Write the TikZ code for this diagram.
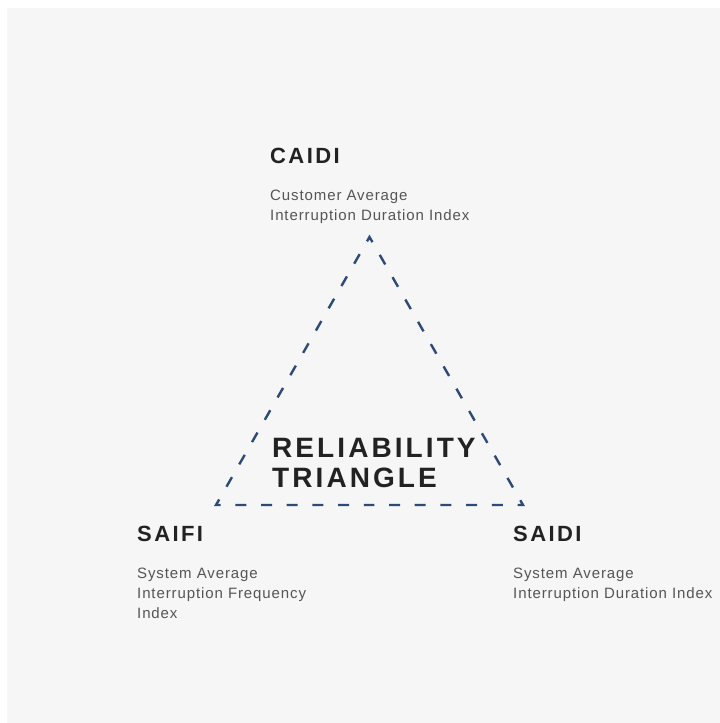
\documentclass[tikz,border=0pt]{standalone}
\usepackage{fontspec}
\setmainfont{Liberation Sans}
\newfontfamily\headfont[LetterSpace=11]{Liberation Sans}
\newfontfamily\subfont[LetterSpace=6]{Liberation Sans}
\usepackage{tikz}
\usetikzlibrary{positioning}
\definecolor{panelcolor}{RGB}{246,246,246}
\definecolor{edgecolor}{RGB}{44,74,122}
\definecolor{headcolor}{RGB}{34,34,34}
\definecolor{subcolor}{RGB}{85,85,85}

\tikzset{
  metric/.style={anchor=base west, inner sep=0pt, text=headcolor,
    font=\headfont\bfseries\fontsize{22}{22}\selectfont},
  metricsub/.style={anchor=base west, inner sep=0pt, text=subcolor, align=left,
    font=\subfont\fontsize{15}{20}\selectfont},
  tribig/.style={anchor=base west, inner sep=0pt, text=headcolor, align=left,
    font=\headfont\bfseries\fontsize{28}{30}\selectfont},
  triedge/.style={draw=edgecolor, line width=2.4pt, line join=miter,
    dash pattern=on 11pt off 14.7pt, dash phase=6.2pt}
}

\begin{document}
\begin{tikzpicture}[x=1pt, y=1pt]
  % canvas: 720 x 723, light panel
  \useasboundingbox (0,0) rectangle (720,723);
  \fill[white] (0,0) rectangle (720,723);
  \fill[panelcolor] (7,0) rectangle (720,715);

  % triangle corners (path starts mid-bottom so every corner gets a dash)
  \coordinate (apex) at (369.5,486);
  \coordinate (lcorner) at (216,218);
  \coordinate (rcorner) at (523,218);
  \coordinate (bmid) at (369.5,218);
  \draw[triedge] (bmid) -- (rcorner) -- (apex) -- (lcorner) -- cycle;

  % centre label
  \node[tribig] (title) at (272,235) {RELIABILITY\\TRIANGLE};

  % CAIDI (top)
  \node[metric] (caidi) at (270,559) {CAIDI};
  \node[metricsub] (caidisub) at (270,502) {Customer Average\\Interruption Duration Index};

  % SAIFI (left)
  \node[metric] (saifi) at (137,181) {SAIFI};
  \node[metricsub] (saifisub) at (137,104) {System Average\\Interruption Frequency\\Index};

  % SAIDI (right)
  \node[metric] (saidi) at (513,181) {SAIDI};
  \node[metricsub] (saidisub) at (513,124) {System Average\\Interruption Duration Index};
\end{tikzpicture}
\end{document}
